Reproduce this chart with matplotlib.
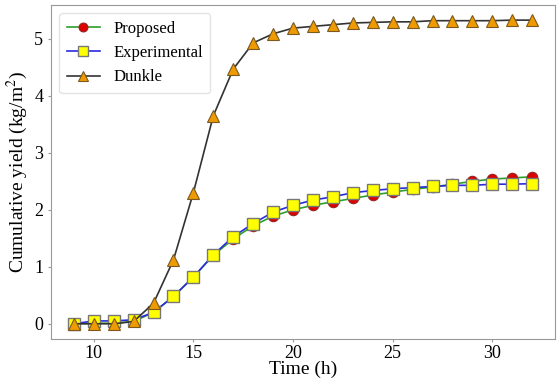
import numpy as np
import matplotlib
matplotlib.use("Agg")
import matplotlib.pyplot as plt

# ============================================================
# DATA
# ============================================================
hours = list(range(9, 33))

proposed = [0.00, 0.01, 0.01, 0.04, 0.20, 0.48, 0.82, 1.20, 1.49, 1.72,
            1.89, 2.00, 2.08, 2.14, 2.20, 2.26, 2.31, 2.36, 2.40, 2.45,
            2.50, 2.54, 2.56, 2.58]

experimental = [0.00, 0.05, 0.05, 0.07, 0.20, 0.48, 0.82, 1.21, 1.53, 1.76,
                1.96, 2.08, 2.17, 2.23, 2.30, 2.34, 2.37, 2.39, 2.41, 2.43,
                2.43, 2.45, 2.45, 2.46]

dunkle = [0.00, 0.00, 0.00, 0.04, 0.36, 1.12, 2.30, 3.65, 4.47, 4.93,
          5.09, 5.19, 5.22, 5.25, 5.28, 5.29, 5.30, 5.30, 5.32, 5.32,
          5.32, 5.32, 5.33, 5.33]

# ============================================================
# PLOT
# ============================================================
plt.rcParams["font.family"] = ["Liberation Serif", "DejaVu Serif"]
plt.rcParams["mathtext.fontset"] = "stix"

fig = plt.figure(figsize=(5.59, 3.80), dpi=100)
ax = fig.add_axes([0.091, 0.108, 0.902, 0.879])

ax.plot(hours, proposed, color="#2ca02c", linewidth=1.2, marker="o",
        markersize=7.5, markerfacecolor="#dd0000", markeredgecolor="#992222",
        markeredgewidth=0.8, label="Proposed", zorder=3)
ax.plot(hours, experimental, color="#2b2bdd", linewidth=1.2, marker="s",
        markersize=8, markerfacecolor="#ffff00", markeredgecolor="#777777",
        markeredgewidth=1.0, label="Experimental", zorder=4)
ax.plot(hours, dunkle, color="#333333", linewidth=1.2, marker="^",
        markersize=8.5, markerfacecolor="#ee9a00", markeredgecolor="#7a5a20",
        markeredgewidth=0.8, label="Dunkle", zorder=5)

ax.set_xticks([10, 15, 20, 25, 30])
ax.set_yticks([0, 1, 2, 3, 4, 5])
ax.tick_params(labelsize=13, length=2.5, color="#999999", pad=3)
ax.tick_params(axis="x", pad=2)
for sp in ax.spines.values():
    sp.set_color("#999999")

ax.set_xlabel("Time (h)", fontsize=14, labelpad=-1)
ax.set_ylabel("Cumulative yield (kg/m$^2$)", fontsize=14, labelpad=3)

leg = ax.legend(loc="upper left", fontsize=12, handlelength=2.0,
                borderpad=0.45, labelspacing=0.5, handletextpad=0.8,
                markerscale=0.85)
leg.get_frame().set_edgecolor("#dddddd")

fig.savefig("out.png", dpi=100)
